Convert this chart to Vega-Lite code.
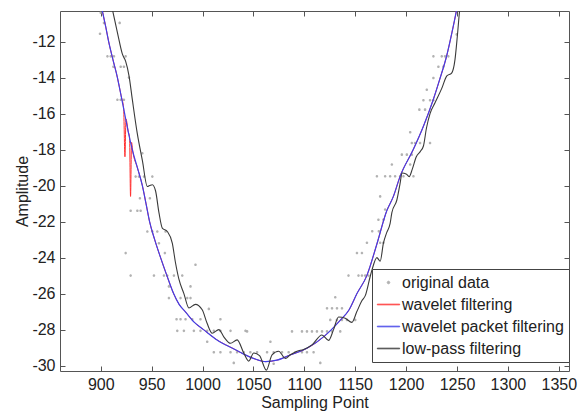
{
  "$schema": "https://vega.github.io/schema/vega-lite/v6.json",
  "width": 509,
  "height": 360,
  "autosize": {"type": "none"},
  "padding": {"left": 60, "top": 11, "right": 10, "bottom": 41},
  "background": "white",
  "config": {
    "font": "Liberation Sans",
    "view": {"stroke": "#555", "strokeWidth": 1},
    "axis": {"grid": false, "domain": false, "tickSize": -5, "tickColor": "#555", "labelFontSize": 16, "labelColor": "#222", "titleFontSize": 16, "titleFontWeight": "normal", "titleColor": "#222", "labelPadding": 10, "labelExpr": "datum.value + ''"}
  },
  "datasets": {
    "pts": [
      {"s":"original data","x":900,"y":-10.4},{"s":"original data","x":903.2,"y":-10.96},{"s":"original data","x":899.3,"y":-11.56},{"s":"original data","x":918.6,"y":-10.96},
      {"s":"original data","x":906.6,"y":-12.82},{"s":"original data","x":909.8,"y":-12.82},{"s":"original data","x":913,"y":-12.82},{"s":"original data","x":924.5,"y":-12.82},
      {"s":"original data","x":912.5,"y":-13.4},{"s":"original data","x":919.6,"y":-13.4},{"s":"original data","x":922.8,"y":-13.4},{"s":"original data","x":927.7,"y":-14.0},
      {"s":"original data","x":916.4,"y":-15.23},{"s":"original data","x":919.6,"y":-15.23},{"s":"original data","x":922.8,"y":-15.23},
      {"s":"original data","x":940.9,"y":-18.2},
      {"s":"original data","x":934.3,"y":-19.5},{"s":"original data","x":937.5,"y":-19.5},{"s":"original data","x":942.5,"y":-19.5},{"s":"original data","x":950.7,"y":-19.5},
      {"s":"original data","x":938.5,"y":-20.7},{"s":"original data","x":948.3,"y":-20.7},
      {"s":"original data","x":929.4,"y":-21.4},{"s":"original data","x":936,"y":-21.4},{"s":"original data","x":939.2,"y":-21.4},
      {"s":"original data","x":945.8,"y":-22.55},{"s":"original data","x":950.7,"y":-22.55},{"s":"original data","x":955.6,"y":-22.55},{"s":"original data","x":963.7,"y":-22.55},
      {"s":"original data","x":957.2,"y":-23.2},{"s":"original data","x":963,"y":-23.75},{"s":"original data","x":924.5,"y":-23.75},{"s":"original data","x":993.1,"y":-24.4},
      {"s":"original data","x":929.4,"y":-25.0},{"s":"original data","x":952.3,"y":-25.0},{"s":"original data","x":962.1,"y":-25.0},{"s":"original data","x":965.4,"y":-25.0},{"s":"original data","x":971.9,"y":-25.0},{"s":"original data","x":980.1,"y":-25.0},
      {"s":"original data","x":967,"y":-25.6},{"s":"original data","x":988.2,"y":-25.6},
      {"s":"original data","x":967,"y":-26.25},{"s":"original data","x":978.4,"y":-26.25},{"s":"original data","x":985,"y":-26.25},{"s":"original data","x":988.2,"y":-26.25},
      {"s":"original data","x":1006.2,"y":-26.85},
      {"s":"original data","x":974.5,"y":-27.42},{"s":"original data","x":978.4,"y":-27.42},{"s":"original data","x":983.3,"y":-27.42},{"s":"original data","x":989.9,"y":-27.42},{"s":"original data","x":998,"y":-27.42},{"s":"original data","x":1017.6,"y":-27.42},
      {"s":"original data","x":975.2,"y":-28.07},{"s":"original data","x":981.7,"y":-28.07},{"s":"original data","x":991.5,"y":-28.07},{"s":"original data","x":998,"y":-28.07},{"s":"original data","x":1004.6,"y":-28.07},{"s":"original data","x":1011.1,"y":-28.07},{"s":"original data","x":1017.6,"y":-28.07},{"s":"original data","x":1027.5,"y":-28.07},{"s":"original data","x":1042.2,"y":-28.07},
      {"s":"original data","x":1004.6,"y":-28.67},{"s":"original data","x":1066.7,"y":-28.67},
      {"s":"original data","x":1011.1,"y":-29.26},{"s":"original data","x":1017.6,"y":-29.26},{"s":"original data","x":1027.5,"y":-29.26},{"s":"original data","x":1034,"y":-29.26},{"s":"original data","x":1040.5,"y":-29.26},{"s":"original data","x":1047,"y":-29.26},{"s":"original data","x":1053.6,"y":-29.26},{"s":"original data","x":1063.4,"y":-29.26},{"s":"original data","x":1069.9,"y":-29.26},{"s":"original data","x":1078.1,"y":-29.26},{"s":"original data","x":1084.6,"y":-29.26},{"s":"original data","x":1091.2,"y":-29.26},{"s":"original data","x":1097.7,"y":-29.26},{"s":"original data","x":1102.6,"y":-29.26},{"s":"original data","x":1109.1,"y":-29.26},
      {"s":"original data","x":1030.7,"y":-29.85},{"s":"original data","x":1069.9,"y":-29.9},{"s":"original data","x":1115.7,"y":-29.85},
      {"s":"original data","x":1043.8,"y":-28.1},{"s":"original data","x":1087.9,"y":-28.1},{"s":"original data","x":1097.7,"y":-28.1},{"s":"original data","x":1102.6,"y":-28.1},{"s":"original data","x":1107.5,"y":-28.1},{"s":"original data","x":1112.4,"y":-28.1},{"s":"original data","x":1117.4,"y":-28.1},{"s":"original data","x":1122.3,"y":-28.1},{"s":"original data","x":1127.2,"y":-28.1},{"s":"original data","x":1135.3,"y":-28.1},
      {"s":"original data","x":1122.3,"y":-26.82},{"s":"original data","x":1127.2,"y":-26.82},{"s":"original data","x":1132.1,"y":-26.82},{"s":"original data","x":1137,"y":-26.82},
      {"s":"original data","x":1130.4,"y":-26.2},
      {"s":"original data","x":1125.5,"y":-27.46},{"s":"original data","x":1132,"y":-27.46},{"s":"original data","x":1136.9,"y":-27.46},{"s":"original data","x":1141.9,"y":-27.46},{"s":"original data","x":1150,"y":-27.46},
      {"s":"original data","x":1143.4,"y":-25.0},{"s":"original data","x":1153.2,"y":-25.0},{"s":"original data","x":1156.6,"y":-25.0},{"s":"original data","x":1159.8,"y":-25.0},{"s":"original data","x":1163,"y":-25.0},
      {"s":"original data","x":1151.7,"y":-23.74},{"s":"original data","x":1156.6,"y":-23.74},
      {"s":"original data","x":1161.5,"y":-23.18},{"s":"original data","x":1174.5,"y":-23.18},{"s":"original data","x":1177.7,"y":-23.18},
      {"s":"original data","x":1166.7,"y":-22.54},{"s":"original data","x":1173.2,"y":-22.54},
      {"s":"original data","x":1172.8,"y":-21.9},{"s":"original data","x":1177.7,"y":-21.9},{"s":"original data","x":1179.4,"y":-21.33},{"s":"original data","x":1174.5,"y":-20.6},
      {"s":"original data","x":1171.3,"y":-19.48},{"s":"original data","x":1179.4,"y":-19.48},{"s":"original data","x":1184.3,"y":-19.48},{"s":"original data","x":1189.2,"y":-19.48},{"s":"original data","x":1194.1,"y":-19.48},{"s":"original data","x":1197.4,"y":-19.48},{"s":"original data","x":1207.2,"y":-19.48},
      {"s":"original data","x":1186,"y":-18.83},{"s":"original data","x":1204,"y":-18.83},
      {"s":"original data","x":1195.8,"y":-18.28},{"s":"original data","x":1200.7,"y":-18.28},{"s":"original data","x":1205.6,"y":-18.28},
      {"s":"original data","x":1204,"y":-17.04},
      {"s":"original data","x":1205.6,"y":-17.63},{"s":"original data","x":1208.8,"y":-17.63},{"s":"original data","x":1213.7,"y":-17.63},{"s":"original data","x":1223.5,"y":-17.63},
      {"s":"original data","x":1213,"y":-15.78},{"s":"original data","x":1218.6,"y":-15.78},
      {"s":"original data","x":1217,"y":-15.26},{"s":"original data","x":1223.5,"y":-15.26},{"s":"original data","x":1226.8,"y":-15.26},
      {"s":"original data","x":1220.3,"y":-14.67},{"s":"original data","x":1226.8,"y":-14.02},
      {"s":"original data","x":1231.7,"y":-13.4},{"s":"original data","x":1236.6,"y":-13.4},
      {"s":"original data","x":1226.8,"y":-12.82},{"s":"original data","x":1235,"y":-12.82},{"s":"original data","x":1238.2,"y":-12.82},{"s":"original data","x":1241.5,"y":-12.82},
      {"s":"original data","x":1249.7,"y":-11.6}
    ],
    "red": [
      {"s":"wavelet filtering","x":899,"y":-9.6},{"s":"wavelet filtering","x":902,"y":-10.4},{"s":"wavelet filtering","x":905,"y":-11.2},{"s":"wavelet filtering","x":907.8,"y":-12.0},{"s":"wavelet filtering","x":912,"y":-13.0},{"s":"wavelet filtering","x":916.4,"y":-14.0},{"s":"wavelet filtering","x":920,"y":-15.0},
      {"s":"wavelet filtering","x":922.5,"y":-15.7},{"s":"wavelet filtering","x":923.8,"y":-18.4},{"s":"wavelet filtering","x":924.8,"y":-16.3},{"s":"wavelet filtering","x":927,"y":-17.0},{"s":"wavelet filtering","x":928.3,"y":-17.3},{"s":"wavelet filtering","x":929.3,"y":-20.6},{"s":"wavelet filtering","x":930.3,"y":-17.6},{"s":"wavelet filtering","x":931.5,"y":-18.1},
      {"s":"wavelet filtering","x":936,"y":-19.0},{"s":"wavelet filtering","x":940.9,"y":-20.0},{"s":"wavelet filtering","x":944.5,"y":-21.0},{"s":"wavelet filtering","x":948,"y":-22.0},{"s":"wavelet filtering","x":953,"y":-23.0},{"s":"wavelet filtering","x":958.8,"y":-24.0},{"s":"wavelet filtering","x":965,"y":-25.0},{"s":"wavelet filtering","x":971.6,"y":-26.0},{"s":"wavelet filtering","x":977,"y":-26.6},{"s":"wavelet filtering","x":983,"y":-27.0},{"s":"wavelet filtering","x":992,"y":-27.6},{"s":"wavelet filtering","x":1001,"y":-28.0},{"s":"wavelet filtering","x":1015,"y":-28.6},{"s":"wavelet filtering","x":1030,"y":-29.05},{"s":"wavelet filtering","x":1040,"y":-29.35},{"s":"wavelet filtering","x":1050,"y":-29.6},{"s":"wavelet filtering","x":1062,"y":-29.78},{"s":"wavelet filtering","x":1073,"y":-29.7},{"s":"wavelet filtering","x":1086,"y":-29.41},{"s":"wavelet filtering","x":1102.6,"y":-29.04},{"s":"wavelet filtering","x":1120,"y":-28.35},{"s":"wavelet filtering","x":1135,"y":-27.5},{"s":"wavelet filtering","x":1144,"y":-26.9},{"s":"wavelet filtering","x":1151.7,"y":-26.0},{"s":"wavelet filtering","x":1161.4,"y":-25.0},{"s":"wavelet filtering","x":1171,"y":-23.3},{"s":"wavelet filtering","x":1181,"y":-21.4},{"s":"wavelet filtering","x":1187.5,"y":-20.6},{"s":"wavelet filtering","x":1194,"y":-19.5},{"s":"wavelet filtering","x":1207,"y":-18.0},{"s":"wavelet filtering","x":1217,"y":-16.7},{"s":"wavelet filtering","x":1226.8,"y":-15.2},{"s":"wavelet filtering","x":1233,"y":-14.1},{"s":"wavelet filtering","x":1239.8,"y":-12.8},{"s":"wavelet filtering","x":1245,"y":-11.5},{"s":"wavelet filtering","x":1249.7,"y":-10.2},{"s":"wavelet filtering","x":1251,"y":-9.8}
    ],
    "blue": [
      {"s":"wavelet packet filtering","x":899,"y":-9.6},{"s":"wavelet packet filtering","x":902,"y":-10.4},{"s":"wavelet packet filtering","x":905,"y":-11.2},{"s":"wavelet packet filtering","x":907.8,"y":-12.0},{"s":"wavelet packet filtering","x":912,"y":-13.0},{"s":"wavelet packet filtering","x":916.4,"y":-14.0},{"s":"wavelet packet filtering","x":920,"y":-15.0},{"s":"wavelet packet filtering","x":923.5,"y":-16.0},{"s":"wavelet packet filtering","x":927,"y":-17.0},{"s":"wavelet packet filtering","x":931,"y":-18.0},
      {"s":"wavelet packet filtering","x":936,"y":-19.0},{"s":"wavelet packet filtering","x":940.9,"y":-20.0},{"s":"wavelet packet filtering","x":944.5,"y":-21.0},{"s":"wavelet packet filtering","x":948,"y":-22.0},{"s":"wavelet packet filtering","x":953,"y":-23.0},{"s":"wavelet packet filtering","x":958.8,"y":-24.0},{"s":"wavelet packet filtering","x":965,"y":-25.0},{"s":"wavelet packet filtering","x":971.6,"y":-26.0},{"s":"wavelet packet filtering","x":977,"y":-26.6},{"s":"wavelet packet filtering","x":983,"y":-27.0},{"s":"wavelet packet filtering","x":992,"y":-27.6},{"s":"wavelet packet filtering","x":1001,"y":-28.0},{"s":"wavelet packet filtering","x":1015,"y":-28.6},{"s":"wavelet packet filtering","x":1030,"y":-29.05},{"s":"wavelet packet filtering","x":1040,"y":-29.35},{"s":"wavelet packet filtering","x":1050,"y":-29.6},{"s":"wavelet packet filtering","x":1062,"y":-29.78},{"s":"wavelet packet filtering","x":1073,"y":-29.7},{"s":"wavelet packet filtering","x":1086,"y":-29.41},{"s":"wavelet packet filtering","x":1102.6,"y":-29.04},{"s":"wavelet packet filtering","x":1120,"y":-28.35},{"s":"wavelet packet filtering","x":1135,"y":-27.5},{"s":"wavelet packet filtering","x":1144,"y":-26.9},{"s":"wavelet packet filtering","x":1151.7,"y":-26.0},{"s":"wavelet packet filtering","x":1161.4,"y":-25.0},{"s":"wavelet packet filtering","x":1171,"y":-23.3},{"s":"wavelet packet filtering","x":1181,"y":-21.4},{"s":"wavelet packet filtering","x":1187.5,"y":-20.6},{"s":"wavelet packet filtering","x":1194,"y":-19.5},{"s":"wavelet packet filtering","x":1207,"y":-18.0},{"s":"wavelet packet filtering","x":1217,"y":-16.7},{"s":"wavelet packet filtering","x":1226.8,"y":-15.2},{"s":"wavelet packet filtering","x":1233,"y":-14.1},{"s":"wavelet packet filtering","x":1239.8,"y":-12.8},{"s":"wavelet packet filtering","x":1245,"y":-11.5},{"s":"wavelet packet filtering","x":1249.7,"y":-10.2},{"s":"wavelet packet filtering","x":1251,"y":-9.8}
    ],
    "black": [
      {"s":"low-pass filtering","x":909,"y":-9.6},{"s":"low-pass filtering","x":911.4,"y":-10.2},{"s":"low-pass filtering","x":916.4,"y":-11.5},{"s":"low-pass filtering","x":921.3,"y":-12.7},{"s":"low-pass filtering","x":924.5,"y":-13.1},{"s":"low-pass filtering","x":927.8,"y":-13.9},{"s":"low-pass filtering","x":931,"y":-15.2},{"s":"low-pass filtering","x":935.9,"y":-17.1},{"s":"low-pass filtering","x":940.9,"y":-18.6},{"s":"low-pass filtering","x":945.8,"y":-20.05},{"s":"low-pass filtering","x":948,"y":-20.0},{"s":"low-pass filtering","x":950.7,"y":-19.95},{"s":"low-pass filtering","x":953.9,"y":-20.3},{"s":"low-pass filtering","x":957.2,"y":-21.5},{"s":"low-pass filtering","x":960.5,"y":-22.36},{"s":"low-pass filtering","x":965.4,"y":-22.55},{"s":"low-pass filtering","x":970.3,"y":-23.2},{"s":"low-pass filtering","x":973.5,"y":-24.3},{"s":"low-pass filtering","x":976.8,"y":-25.2},{"s":"low-pass filtering","x":981.7,"y":-26.0},{"s":"low-pass filtering","x":986.6,"y":-26.8},{"s":"low-pass filtering","x":993,"y":-26.6},{"s":"low-pass filtering","x":999.7,"y":-26.9},{"s":"low-pass filtering","x":1004.5,"y":-27.65},{"s":"low-pass filtering","x":1009.5,"y":-28.2},{"s":"low-pass filtering","x":1016,"y":-28.0},{"s":"low-pass filtering","x":1020.9,"y":-28.4},{"s":"low-pass filtering","x":1027.5,"y":-28.76},{"s":"low-pass filtering","x":1034,"y":-28.57},{"s":"low-pass filtering","x":1040.5,"y":-29.3},{"s":"low-pass filtering","x":1045.4,"y":-29.75},{"s":"low-pass filtering","x":1050.3,"y":-29.3},{"s":"low-pass filtering","x":1056,"y":-29.45},{"s":"low-pass filtering","x":1062.7,"y":-30.25},{"s":"low-pass filtering","x":1068.3,"y":-29.4},{"s":"low-pass filtering","x":1074.8,"y":-29.2},{"s":"low-pass filtering","x":1081.4,"y":-29.6},{"s":"low-pass filtering","x":1086.3,"y":-29.4},{"s":"low-pass filtering","x":1092.8,"y":-29.2},{"s":"low-pass filtering","x":1099.3,"y":-29.1},{"s":"low-pass filtering","x":1107.5,"y":-28.85},{"s":"low-pass filtering","x":1117.3,"y":-28.3},{"s":"low-pass filtering","x":1123.8,"y":-28.6},{"s":"low-pass filtering","x":1128.7,"y":-28.0},{"s":"low-pass filtering","x":1133.6,"y":-27.3},{"s":"low-pass filtering","x":1140.2,"y":-27.37},{"s":"low-pass filtering","x":1146.7,"y":-27.6},{"s":"low-pass filtering","x":1151.6,"y":-27.0},{"s":"low-pass filtering","x":1156.5,"y":-26.4},{"s":"low-pass filtering","x":1160,"y":-26.1},{"s":"low-pass filtering","x":1164.7,"y":-25.05},{"s":"low-pass filtering","x":1166.4,"y":-24.7},{"s":"low-pass filtering","x":1171.3,"y":-24.0},{"s":"low-pass filtering","x":1174.5,"y":-24.2},{"s":"low-pass filtering","x":1177.7,"y":-23.2},{"s":"low-pass filtering","x":1181,"y":-22.6},{"s":"low-pass filtering","x":1184.3,"y":-22.1},{"s":"low-pass filtering","x":1186,"y":-21.5},{"s":"low-pass filtering","x":1190.9,"y":-20.8},{"s":"low-pass filtering","x":1194,"y":-19.9},{"s":"low-pass filtering","x":1196,"y":-19.3},{"s":"low-pass filtering","x":1200,"y":-19.35},{"s":"low-pass filtering","x":1203,"y":-19.5},{"s":"low-pass filtering","x":1206,"y":-19.1},{"s":"low-pass filtering","x":1210,"y":-18.4},{"s":"low-pass filtering","x":1214,"y":-18.1},{"s":"low-pass filtering","x":1217,"y":-17.8},{"s":"low-pass filtering","x":1220,"y":-16.8},{"s":"low-pass filtering","x":1223.5,"y":-16.0},{"s":"low-pass filtering","x":1228.4,"y":-15.4},{"s":"low-pass filtering","x":1235,"y":-14.6},{"s":"low-pass filtering","x":1240,"y":-13.9},{"s":"low-pass filtering","x":1244.7,"y":-13.75},{"s":"low-pass filtering","x":1248,"y":-13.0},{"s":"low-pass filtering","x":1250.3,"y":-11.7},{"s":"low-pass filtering","x":1252.5,"y":-10.3},{"s":"low-pass filtering","x":1254,"y":-9.6}
    ]
  },
  "layer": [
    {
      "data": {"name": "pts"},
      "mark": {"type": "point", "filled": true, "size": 256, "opacity": 0.85, "clip": true},
      "encoding": {
        "x": {"field": "x", "type": "quantitative", "scale": {"domain": [860, 1360], "nice": false, "zero": false}, "axis": {"orient": "bottom", "values": [900, 950, 1000, 1050, 1100, 1150, 1200, 1250, 1300, 1350], "title": "Sampling Point", "titlePadding": 2}},
        "y": {"field": "y", "type": "quantitative", "scale": {"domain": [-30.3, -10.3], "nice": false, "zero": false}, "axis": {"orient": "left", "values": [-12, -14, -16, -18, -20, -22, -24, -26, -28, -30], "title": "Amplitude", "titlePadding": 1}},
        "color": {"field": "s", "type": "nominal", "scale": {"domain": ["original data", "wavelet filtering", "wavelet packet filtering", "low-pass filtering"], "range": ["#a4a4a4", "#ff3030", "#4040e8", "#3a3a3a"]},
          "legend": {"title": null, "orient": "none", "legendX": 312, "legendY": 258, "strokeColor": "#444", "fillColor": "white", "padding": 5, "labelFontSize": 16, "labelColor": "#222", "labelFont": "Liberation Sans", "labelLimit": 0, "symbolSize": 256, "symbolOffset": 3, "rowPadding": 5, "labelOffset": 5, "symbolStrokeWidth": 1}},
        "shape": {"field": "s", "type": "nominal", "scale": {"domain": ["original data", "wavelet filtering", "wavelet packet filtering", "low-pass filtering"], "range": ["M-0.16,0A0.16,0.16 0 1,0 0.16,0A0.16,0.16 0 1,0 -0.16,0Z", "M-1.4,-0.04H1.4V0.04H-1.4Z", "M-1.4,-0.04H1.4V0.04H-1.4Z", "M-1.4,-0.04H1.4V0.04H-1.4Z"]}}
      }
    },
    {
      "data": {"name": "red"},
      "mark": {"type": "line", "strokeWidth": 1, "interpolate": "monotone", "clip": true},
      "encoding": {
        "x": {"field": "x", "type": "quantitative", "axis": {"orient": "top", "values": [900, 950, 1000, 1050, 1100, 1150, 1200, 1250, 1300, 1350], "labels": false, "title": null}},
        "y": {"field": "y", "type": "quantitative", "axis": {"orient": "right", "values": [-12, -14, -16, -18, -20, -22, -24, -26, -28, -30], "labels": false, "title": null}},
        "color": {"field": "s", "type": "nominal"}
      }
    },
    {
      "data": {"name": "blue"},
      "mark": {"type": "line", "strokeWidth": 1.2, "interpolate": "monotone", "clip": true},
      "encoding": {
        "x": {"field": "x", "type": "quantitative", "axis": null},
        "y": {"field": "y", "type": "quantitative", "axis": null},
        "color": {"field": "s", "type": "nominal"}
      }
    },
    {
      "data": {"name": "black"},
      "mark": {"type": "line", "strokeWidth": 1.1, "interpolate": "monotone", "clip": true},
      "encoding": {
        "x": {"field": "x", "type": "quantitative", "axis": null},
        "y": {"field": "y", "type": "quantitative", "axis": null},
        "color": {"field": "s", "type": "nominal"}
      }
    }
  ],
  "resolve": {"axis": {"x": "independent", "y": "independent"}}
}
